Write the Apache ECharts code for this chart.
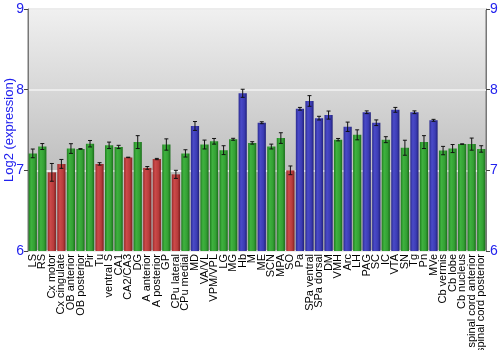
<!DOCTYPE html>
<html><head><meta charset="utf-8">
<script src="https://cdn.jsdelivr.net/npm/echarts@6/dist/echarts.min.js"></script>
<style>html,body{margin:0;padding:0;background:#fff}#c{width:500px;height:350px}</style>
</head><body><div id="c"></div>
<script>
var categories = ["LS","RS","Cx motor","Cx cingulate","OB anterior","OB posterior","Pir","Tu","ventral S","CA1","CA2/CA3","DG","A anterior","A posterior","GP","CPu lateral","CPu medial","MD","VA/VL","VPM/VPL","LG","MG","Hb","M","ME","SCN","MPA","SO","Pa","SPa ventral","SPa dorsal","DM","VMH","Arc","LH","PAG","SC","IC","VTA","SN","Tg","Pn","MVe","Cb vermis","Cb lobe","Cb nucleus","spinal cord anterior","spinal cord posterior"];
var values = [7.21,7.295,6.975,7.08,7.27,7.265,7.33,7.08,7.31,7.29,7.16,7.35,7.03,7.14,7.32,6.95,7.21,7.55,7.32,7.36,7.25,7.385,7.955,7.34,7.59,7.295,7.40,7.0,7.763,7.86,7.647,7.685,7.38,7.54,7.44,7.72,7.59,7.38,7.75,7.28,7.72,7.35,7.62,7.245,7.27,7.325,7.325,7.265];
var errors = [0.054,0.037,0.11,0.055,0.06,0.005,0.04,0.015,0.04,0.02,0.003,0.08,0.017,0.008,0.07,0.05,0.045,0.055,0.055,0.035,0.055,0.012,0.05,0.015,0.012,0.03,0.066,0.054,0.017,0.066,0.023,0.05,0.015,0.058,0.062,0.017,0.035,0.037,0.03,0.093,0.017,0.08,0.012,0.052,0.05,0.003,0.075,0.04];
var groups = ["g","g","r","r","g","g","g","r","g","g","r","g","r","r","g","r","g","b","g","g","g","g","b","g","b","g","g","r","b","b","b","b","g","b","g","b","b","g","b","g","b","g","b","g","g","g","g","g"];
var yTicks = [6,7,8,9];

var palette = {
  g: ['#1f7f1f','#3fb23f','#34a034','#1a6e1a'],
  r: ['#9a2a2a','#cc4a4a','#b83c3c','#7e2020'],
  b: ['#2a2a90','#4a4ac8','#3c3cb4','#20207a']
};
function grad(k){
  var p = palette[k];
  return {type:'linear',x:0,y:0,x2:1,y2:0,colorStops:[
    {offset:0,color:p[0]},{offset:0.3,color:p[1]},{offset:0.7,color:p[2]},{offset:1,color:p[3]}]};
}
var barData = values.map(function(v,i){return {value:v,itemStyle:{color:grad(groups[i])}};});
var errData = values.map(function(v,i){return [i, v-errors[i], v+errors[i]];});

var chart = echarts.init(document.getElementById('c'), null, {renderer:'canvas'});
chart.setOption({
  animation:false,
  grid:{left:28,right:14,top:9,bottom:99,containLabel:false,outerBoundsMode:'none',show:true,borderColor:'#777',borderWidth:1,
    backgroundColor:{type:'linear',x:0,y:0,x2:0,y2:1,colorStops:[{offset:0,color:'#f0f0f0'},{offset:1,color:'#a6a6a6'}]}},
  xAxis:{type:'category',data:categories,
    axisTick:{show:false},axisLine:{show:false},
    axisLabel:{interval:0,rotate:90,fontSize:11,color:'#000',fontFamily:'Liberation Sans',margin:3,hideOverlap:false}},
  yAxis:[{type:'value',min:6,max:9,interval:1,position:'left',
    name:'Log2 (expression)',nameLocation:'middle',nameGap:12,nameMoveOverlap:false,
    nameTextStyle:{color:'#2222ee',fontSize:13,fontFamily:'Liberation Sans'},
    axisLine:{show:true,lineStyle:{color:'#777'}},
    axisTick:{show:true,length:4,lineStyle:{color:'#444'}},
    axisLabel:{color:'#2222ee',fontSize:14,fontFamily:'Liberation Sans',margin:4,
      formatter:function(v){return yTicks.indexOf(v)>=0?String(v):'';}},
    splitLine:{show:true,lineStyle:{color:'#ececec',width:2}}},
   {type:'value',min:6,max:9,interval:1,position:'right',
    axisLine:{show:true,lineStyle:{color:'#777'}},
    axisTick:{show:true,length:4,lineStyle:{color:'#444'}},
    axisLabel:{color:'#2222ee',fontSize:14,fontFamily:'Liberation Sans',margin:4},
    splitLine:{show:false}}],
  series:[
    {type:'bar',data:barData,barCategoryGap:'14%',z:2},
    {type:'custom',data:errData,z:5,
     renderItem:function(params,api){
       var x=api.value(0);
       var lo=api.coord([x,api.value(1)]);
       var hi=api.coord([x,api.value(2)]);
       var w=2;
       var st={stroke:'#111',lineWidth:1};
       return {type:'group',children:[
         {type:'line',shape:{x1:lo[0],y1:lo[1],x2:hi[0],y2:hi[1]},style:st},
         {type:'line',shape:{x1:lo[0]-w,y1:lo[1],x2:lo[0]+w,y2:lo[1]},style:st},
         {type:'line',shape:{x1:hi[0]-w,y1:hi[1],x2:hi[0]+w,y2:hi[1]},style:st}
       ]};
     }}
  ]
});
</script></body></html>
